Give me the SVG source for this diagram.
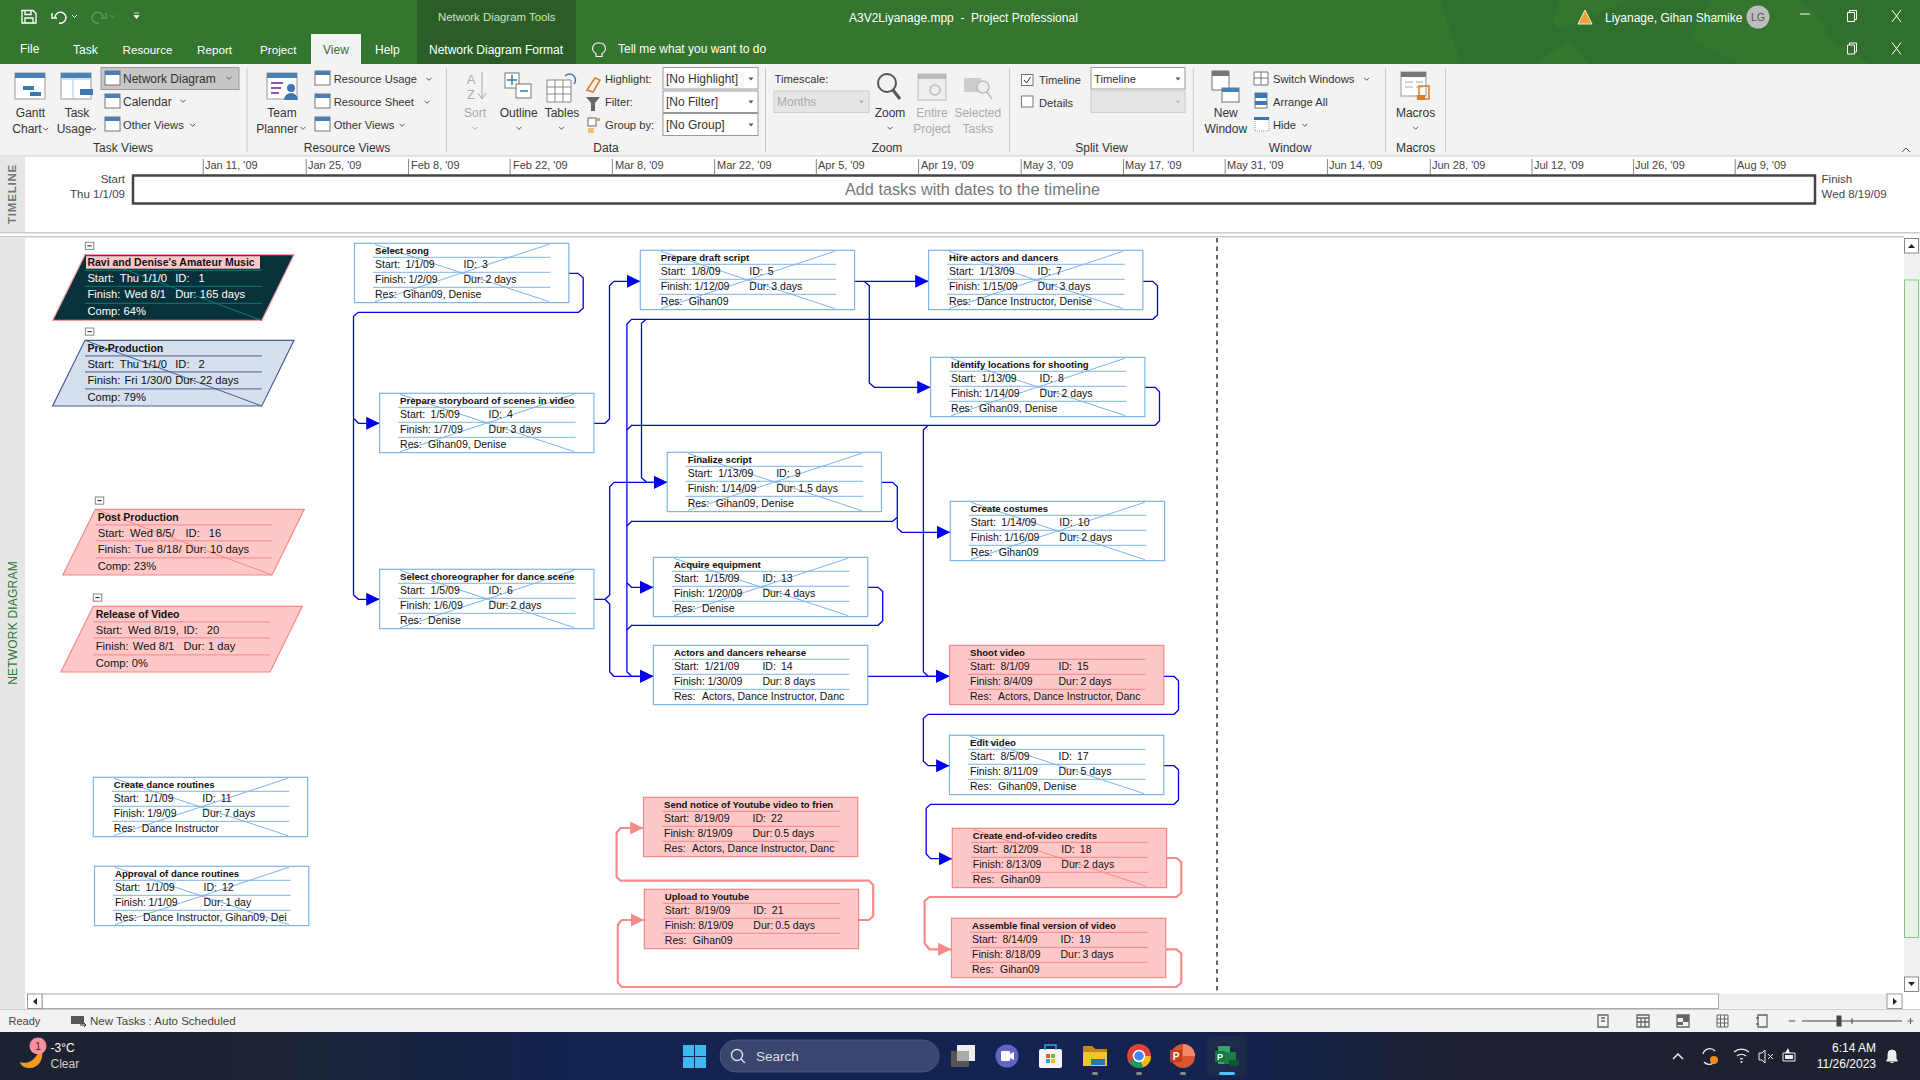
<svg xmlns="http://www.w3.org/2000/svg" width="1920" height="1080" viewBox="0 0 1920 1080">
<style>
text{font-family:"Liberation Sans",Arial,sans-serif;white-space:pre}
.w{fill:#fff;font-size:12px}
.r{fill:#333;font-size:12px}
.r2{fill:#333;font-size:11.2px}
.g{fill:#aaa;font-size:12px}
.m{text-anchor:middle}
.e{text-anchor:end}
.s{fill:#444;font-size:11px}
.t{font-size:10.5px;fill:#111}
.tb{font-size:9.6px;font-weight:700;fill:#111}
.pb2{font-size:10.5px;font-weight:700;fill:#111}
.p{font-size:11.2px;fill:#111}
.pw{font-size:11.2px;fill:#fff}
.wb{fill:#fff;stroke:#7db4ea;stroke-width:1.2}
.wl{stroke:#7db4ea;stroke-width:1}
.pb{fill:#ffc8c8;stroke:#f98787;stroke-width:1.2}
.pl{stroke:#f98787;stroke-width:1}
.blue{fill:none;stroke:#0000f0;stroke-width:1.3;marker-end:url(#ab)}
.bn{fill:none;stroke:#0000f0;stroke-width:1.3}
.pink{fill:none;stroke:#f98a8a;stroke-width:2.2;marker-end:url(#ap)}
.ch{fill:none;stroke:#555;stroke-width:1}
.bx{fill:#fff;stroke:#999;stroke-width:1}
.dis{fill:#e6e6e6;stroke:#ccc;stroke-width:1}
.sep{stroke:#c8c8c8;stroke-width:1}
.tick{stroke:#888;stroke-width:1}
.tri{fill:#555}
</style>
<defs>
<marker id="ab" markerUnits="userSpaceOnUse" markerWidth="14" markerHeight="14" refX="13.4" refY="7" orient="auto"><path d="M0,0.500L13.400,7L0,13.500Z" fill="#0000f0"/></marker>
<marker id="ap" markerUnits="userSpaceOnUse" markerWidth="14" markerHeight="14" refX="13.4" refY="7" orient="auto"><path d="M0,0.500L13.400,7L0,13.500Z" fill="#f98a8a"/></marker>
<g id="whitebox"><rect class="wb" width="214.3" height="59.3"/><path class="wl" d="M18.5,14H196M18.5,29H196M18.5,44H196"/></g>
<g id="pinkbox"><rect class="pb" width="214.3" height="59.3"/><path class="pl" d="M18.5,14H196M18.5,29H196M18.5,44H196"/></g>
<path id="x1" d="M20.5,1L194.5,58.3" fill="none" stroke-width="1"/>
<path id="x2" d="M20.5,58.3L194.5,1" fill="none" stroke-width="1"/>
<g id="cross" stroke="#7db4ea"><use href="#x1"/><use href="#x2"/></g>
<g id="collapse"><rect width="8.4" height="7.2" fill="#fff" stroke="#888"/><path d="M2,3.6H6.4" stroke="#222"/></g>
<path id="chev" class="ch" d="M-2.5,-1.2L0,1.3L2.5,-1.2"/>
<path id="drop" class="tri" d="M-2.5,-1.5H2.5L0,1.5Z"/>
<g id="sheet"><rect x="0" y="0" width="30" height="26" fill="#fff" stroke="#999"/><rect x="0" y="0" width="30" height="5" fill="#4a7fb5"/></g>
<g id="mini"><rect width="15" height="14" fill="#fff" stroke="#777"/><rect width="15" height="4" fill="#4a7fb5"/></g>
<linearGradient id="tb" x1="0" x2="1" y1="0" y2="0"><stop offset="0" stop-color="#1d2230"/><stop offset=".15" stop-color="#1c2436"/><stop offset=".3" stop-color="#14234f"/><stop offset=".64" stop-color="#14234f"/><stop offset=".76" stop-color="#1e2230"/><stop offset="1" stop-color="#1e2230"/></linearGradient>
</defs>

<rect width="1920" height="1080" fill="#fff"/>

<g id="titlebar">
<rect width="1920" height="64" fill="#34752f"/>
<path d="M1440,0h120l-8,22 20,18-40,24h-70zM1560,30l70-30h80l-20,40 50,24h-150zM1800,0h120v64h-50l-40-26-10,-20z" fill="#2f6c2b" opacity=".7"/>
<rect x="417" width="159" height="64" fill="#2b5e26"/>
<rect x="311" y="34" width="50" height="30" fill="#f3f3f3"/>
<path d="M22,10.5h11l3,3v9.5h-14zM25,10.5v4h6v-4M25,23v-5h8v5" fill="none" stroke="#fff" stroke-width="1.3"/>
<path d="M55,17a5.5,5.5 0 1 1 4,6M52,13v5h5" fill="none" stroke="#fff" stroke-width="1.4"/>
<path d="M72,15l2.500,2.500 2.500-2.500" fill="none" stroke="#fff"/>
<path d="M103,17a5.5,5.5 0 1 0 -4,6M106,13v5h-5" fill="none" stroke="#5f9a5c" stroke-width="1.4"/>
<path d="M110.500,15l2.500,2.500 2.500-2.500" fill="none" stroke="#5f9a5c"/>
<path d="M134,13h5M134,15.5h5l-2.5,3z" fill="#fff" stroke="#fff" stroke-width=".7"/>
<text x="438" y="20.5" class="w" style="fill:#cfe0cd;font-size:11.4px">Network Diagram Tools</text>
<text x="849" y="21.5" class="w">A3V2Liyanage.mpp  -  Project Professional</text>
<text x="20" y="52.500" class="w">File</text>
<text x="73" y="53.500" class="w">Task</text>
<text x="122.5" y="53.500" class="w" style="font-size:11.700px">Resource</text>
<text x="197" y="53.500" class="w" style="font-size:11.700px">Report</text>
<text x="260" y="53.500" class="w" style="font-size:11.700px">Project</text>
<text x="323" y="53.500" class="w" style="fill:#2f7030">View</text>
<text x="375" y="53.500" class="w">Help</text>
<text x="429" y="53.500" class="w">Network Diagram Format</text>
<path d="M599,43a5.5,5.5 0 0 1 3,10.500v3h-6v-3a5.500,5.500 0 0 1 3,-10.500z" fill="none" stroke="#fff" stroke-width="1.100"/>
<text x="618" y="53" class="w">Tell me what you want to do</text>
<path d="M1585,10l7,14h-14z" fill="#f0a030" stroke="#f5e6c8" stroke-width="1"/>
<text x="1605" y="21.500" class="w">Liyanage, Gihan Shamike</text>
<circle cx="1758" cy="17" r="11.500" fill="#bdbdbd"/>
<text x="1758" y="21" class="m" style="fill:#555;font-size:10.500px">LG</text>
<path d="M1800,14h10" stroke="#fff"/>
<path d="M1847.500,12.500h7v9h-7zM1849.500,12.500v-2h7v9h-2" fill="none" stroke="#fff"/>
<path d="M1892,10l9,12M1901,10l-9,12" stroke="#fff"/>
<path d="M1847.500,45h7v9h-7zM1849.500,45v-2h7v9h-2" fill="none" stroke="#fff"/>
<path d="M1892,42.500l9,12M1901,42.500l-9,12" stroke="#fff"/>
</g>

<g id="ribbon">
<rect y="64" width="1920" height="92" fill="#f3f3f3"/>
<path class="sep" d="M247,68V152M446.400,68V152M765.500,68V152M1009.600,68V152M1193.300,68V152M1385.600,68V152M1445.600,68V152"/>
<use href="#sheet" x="15" y="73"/><path d="M24,86h11v4H24zM31,92h11v4H31z" fill="#3d78b4" transform="translate(-1,0)"/>
<text x="30.500" y="117" class="r m">Gantt</text><text x="27" y="133" class="r m">Chart</text><use href="#chev" x="45.700" y="129"/>
<use href="#sheet" x="61" y="73"/><path d="M61,79h30M73,79v20" stroke="#aac4e0"/><rect x="80" y="89" width="13" height="6" fill="#3d78b4"/>
<text x="77" y="117" class="r m">Task</text><text x="74" y="133" class="r m">Usage</text><use href="#chev" x="93.700" y="129"/>
<rect x="101" y="67.500" width="138" height="22" fill="#c6c6c6" stroke="#999"/>
<use href="#mini" x="105" y="71"/><text x="123" y="83" class="r">Network Diagram</text><use href="#chev" x="229" y="78"/>
<use href="#mini" x="105" y="94"/><text x="123" y="106" class="r">Calendar</text><use href="#chev" x="183" y="101"/>
<use href="#mini" x="105" y="117"/><text x="123" y="129" class="r2">Other Views</text><use href="#chev" x="192.700" y="125"/>
<text x="123" y="152" class="r m">Task Views</text>
<use href="#sheet" x="267" y="73"/><circle cx="291" cy="88" r="4" fill="#3d78b4"/><path d="M284,100a7,7 0 0 1 14,0z" fill="#3d78b4"/><path d="M271,83h12M271,88h10M271,93h8" stroke="#8a58b0" stroke-width="2"/>
<text x="282" y="117" class="r m">Team</text><text x="277" y="133" class="r m">Planner</text><use href="#chev" x="303" y="128"/>
<use href="#mini" x="315" y="71"/><text x="333.700" y="83" class="r2">Resource Usage</text><use href="#chev" x="429" y="79"/>
<use href="#mini" x="315" y="94"/><text x="333.700" y="106" class="r2">Resource Sheet</text><use href="#chev" x="427" y="102"/>
<use href="#mini" x="315" y="117"/><text x="333.700" y="129" class="r2">Other Views</text><use href="#chev" x="402" y="125"/>
<text x="347" y="152" class="r m">Resource Views</text>
<text x="471" y="84" class="g m" style="font-size:13px">A</text><text x="471" y="99" class="g m" style="font-size:13px">Z</text><path d="M482,72V98M478,93l4,6 4-6" fill="none" stroke="#aaa"/>
<text x="475" y="117" class="g m">Sort</text><path d="M472.500,127l2.500,2.500 2.500-2.500" fill="none" stroke="#aaa"/>
<rect x="505" y="73" width="14" height="15" fill="#fff" stroke="#777"/><rect x="516" y="84" width="15" height="14" fill="#fff" stroke="#777"/><path d="M507,80h10M512,75v10M520,91h8" stroke="#3d78b4" stroke-width="1.500"/>
<text x="518.700" y="117" class="r m">Outline</text><use href="#chev" x="519" y="128"/>
<path d="M547,80h24v22h-24zM547,87h24M547,94h24M555,80v22M563,80v22" fill="#fff" stroke="#888"/><path d="M565,76a6,6 0 0 1 9,8" fill="none" stroke="#3d78b4" stroke-width="1.500"/>
<text x="562" y="117" class="r m">Tables</text><use href="#chev" x="561.500" y="128"/>
<path d="M587,90l8-12 5,2-7,12z" fill="none" stroke="#e07a20" stroke-width="1.500"/>
<text x="605" y="83" class="r2">Highlight:</text>
<path d="M586,97h14l-5,6v8h-4v-8z" fill="#666"/>
<text x="605" y="106" class="r2">Filter:</text>
<rect x="588" y="118" width="8" height="8" fill="#fff" stroke="#666"/><rect x="588" y="128" width="6" height="5" fill="#f0c070"/><rect x="597" y="118" width="3" height="3" fill="#e0a040"/>
<text x="605" y="129" class="r2">Group by:</text>
<rect class="bx" x="663" y="67.500" width="95" height="21.500"/><text x="666" y="83" class="r">[No Highlight]</text><use href="#drop" x="751" y="79"/>
<rect class="bx" x="663" y="91" width="95" height="21.500"/><text x="666" y="106" class="r">[No Filter]</text><use href="#drop" x="751" y="102"/>
<rect class="bx" x="663" y="113.500" width="95" height="22"/><text x="666" y="129" class="r">[No Group]</text><use href="#drop" x="751" y="125"/>
<text x="774.600" y="83" class="r2">Timescale:</text>
<rect class="dis" x="774" y="91" width="95" height="21.500"/><text x="777" y="106" class="g">Months</text><path d="M859,100.500h5l-2.500,3z" fill="#aaa"/>
<circle cx="887" cy="83" r="9" fill="none" stroke="#555" stroke-width="2"/><path d="M893,90l7,9" stroke="#555" stroke-width="3"/>
<text x="890" y="117" class="r m">Zoom</text><use href="#chev" x="890" y="128"/>
<text x="887" y="152" class="r m">Zoom</text>
<rect x="918" y="74" width="28" height="26" fill="#eee" stroke="#bbb"/><rect x="918" y="74" width="28" height="5" fill="#bbb"/><circle cx="935" cy="90" r="5" fill="none" stroke="#bbb" stroke-width="1.500"/>
<text x="932" y="117" class="g m">Entire</text><text x="932" y="133" class="g m">Project</text>
<rect x="964" y="78" width="17" height="14" fill="#ccc"/><circle cx="983" cy="87" r="6" fill="#eee" stroke="#bbb" stroke-width="1.500"/><path d="M987,92l5,7" stroke="#bbb" stroke-width="1.500"/>
<text x="977.800" y="117" class="g m">Selected</text><text x="977.800" y="133" class="g m">Tasks</text>
<rect x="1021.500" y="74.500" width="11.500" height="11" fill="#fff" stroke="#777"/><path d="M1024,80l2.500,3 4-6" fill="none" stroke="#333"/>
<text x="1039" y="84" class="r2">Timeline</text>
<rect class="bx" x="1091" y="67.500" width="94" height="21.500"/><text x="1094" y="83" class="r2">Timeline</text><use href="#drop" x="1178" y="79"/>
<rect x="1021.500" y="96" width="11.500" height="11" fill="#fff" stroke="#777"/>
<text x="1039" y="107" class="r2">Details</text>
<rect class="dis" x="1091" y="91" width="94" height="21.500"/><path d="M1175.500,100.500h5l-2.500,3z" fill="#bbb"/>
<text x="1101.500" y="152" class="r m">Split View</text>
<rect x="1212" y="71" width="17" height="19" fill="#fff" stroke="#777"/><rect x="1212" y="71" width="17" height="5" fill="#777"/><rect x="1222" y="88" width="17" height="14" fill="#fff" stroke="#777"/><rect x="1222" y="88" width="17" height="4" fill="#4a7fb5"/>
<text x="1225.800" y="117" class="r m">New</text><text x="1225.800" y="133" class="r m">Window</text>
<path d="M1254,72h14v13h-14zM1254,78h14M1261,72v13" fill="#fff" stroke="#777"/>
<text x="1273" y="83" class="r2">Switch Windows</text><use href="#chev" x="1366.600" y="79"/>
<rect x="1255" y="93" width="12" height="15" fill="#fff" stroke="#777"/><rect x="1255" y="93" width="12" height="5" fill="#3d78b4"/><rect x="1255" y="101" width="12" height="4" fill="#3d78b4"/>
<text x="1273" y="106" class="r2">Arrange All</text>
<rect x="1255" y="118" width="14" height="13" fill="#fff" stroke="#999" stroke-dasharray="1 1"/><rect x="1254" y="117" width="15" height="3" fill="#3d78b4"/>
<text x="1273" y="129" class="r2">Hide</text><use href="#chev" x="1304.800" y="125"/>
<text x="1290" y="152" class="r m">Window</text>
<rect x="1401" y="72" width="25" height="24" fill="#fff" stroke="#999"/><rect x="1401" y="72" width="25" height="5" fill="#777"/><path d="M1405,82h8M1416,82h7M1405,87h8M1416,87h7" stroke="#aaa"/><rect x="1419" y="86" width="10" height="13" fill="none" stroke="#e07a20" stroke-width="1.500"/><rect x="1417" y="95" width="8" height="5" fill="#e07a20"/>
<text x="1415.600" y="117" class="r m">Macros</text><use href="#chev" x="1415.600" y="128"/>
<text x="1415.600" y="152" class="r m">Macros</text>
<text x="606" y="152" class="r m">Data</text>
<path d="M1902,152l4-4 4,4" fill="none" stroke="#555"/>
<rect y="155.500" width="1920" height="1" fill="#ccc"/>
</g>

<g id="timeline">
<rect y="157" width="25" height="75" fill="#e6e6e6"/>
<text transform="translate(16,194) rotate(-90)" class="m" style="fill:#777;font-size:11.500px;font-weight:700;letter-spacing:.8px">TIMELINE</text>
<path class="tick" d="M203.300,159V174M306.200,159V174M408.500,159V174M510.100,159V174M612.400,159V174M714.600,159V174M816.300,159V174M918.600,159V174M1021.200,159V174M1123.500,159V174M1225.200,159V174M1327.400,159V174M1430.300,159V174M1532,159V174M1633.600,159V174M1735.200,159V174"/>
<g>
<text class="s" x="205" y="169">Jan 11, '09</text><text class="s" x="308" y="169">Jan 25, '09</text><text class="s" x="411" y="169">Feb 8, '09</text><text class="s" x="513" y="169">Feb 22, '09</text><text class="s" x="615" y="169">Mar 8, '09</text><text class="s" x="717" y="169">Mar 22, '09</text><text class="s" x="818" y="169">Apr 5, '09</text><text class="s" x="921" y="169">Apr 19, '09</text><text class="s" x="1023" y="169">May 3, '09</text><text class="s" x="1125" y="169">May 17, '09</text><text class="s" x="1227" y="169">May 31, '09</text><text class="s" x="1329" y="169">Jun 14, '09</text><text class="s" x="1432" y="169">Jun 28, '09</text><text class="s" x="1534" y="169">Jul 12, '09</text><text class="s" x="1635" y="169">Jul 26, '09</text><text class="s" x="1737" y="169">Aug 9, '09</text>
</g>
<rect x="133" y="175.500" width="1682" height="28" fill="#fff" stroke="#444" stroke-width="2.500"/>
<text x="972.500" y="195" class="m" style="fill:#777;font-size:16.300px">Add tasks with dates to the timeline</text>
<text x="125" y="183" class="s e" style="font-size:11.500px">Start</text><text x="125" y="198" class="s e" style="font-size:11.500px">Thu 1/1/09</text>
<text x="1821.600" y="183" class="s" style="font-size:11.500px">Finish</text><text x="1821.600" y="198" class="s" style="font-size:11.500px">Wed 8/19/09</text>
<rect y="232" width="1920" height="1.500" fill="#ccc"/>
<rect y="236" width="1904" height="1.500" fill="#ccc"/>
</g>

<g id="pane">
<rect y="238" width="25" height="772" fill="#e6e6e6"/>
<text transform="translate(17,623) rotate(-90)" class="m" style="fill:#2f7a36;font-size:12px;letter-spacing:.2px">NETWORK DIAGRAM</text>
<path d="M1217,238V992" stroke="#000" stroke-width="1.200" stroke-dasharray="4.500 4"/>
<rect x="1904" y="238" width="16" height="754" fill="#f0f0f0"/>
<rect x="1904.500" y="238.500" width="14" height="14.500" fill="#fff" stroke="#888"/><path d="M1908,248l3.500-4 3.500,4z" fill="#222"/>
<rect x="1904.500" y="280" width="14" height="657.500" fill="#e8f4e8" stroke="#8cc68c"/>
<rect x="1904.500" y="977" width="14" height="14.500" fill="#fff" stroke="#888"/><path d="M1908,982l3.500,4 3.500-4z" fill="#222"/>
<rect x="27.500" y="994" width="1875" height="14.500" fill="#f0f0f0"/>
<rect x="42" y="994" width="1676.500" height="14.500" fill="#fff" stroke="#aaa"/>
<rect x="27.500" y="994" width="14.500" height="14.500" fill="#fff" stroke="#999"/><path d="M37,998v7l-4-3.500z" fill="#222"/>
<rect x="1887" y="994" width="15" height="14.500" fill="#fff" stroke="#999"/><path d="M1893,998v7l4-3.500z" fill="#222"/>
</g>

<g id="connectors">
<path class="bn" d="M568.600,273.300H578L583.200,277.700V308.300L578.500,312.300H358.200L353.500,316.300V595"/>
<path class="blue" d="M353.500,418.300L358.500,423.300H379.600"/>
<path class="blue" d="M353.500,595L358.500,599.300H379.600"/>
<path class="blue" d="M593.900,423.300H605L609.500,419V285.700L613.800,281.300H640.300"/>
<path class="blue" d="M855,281.300H928.600"/>
<path class="blue" d="M864.100,281.300L869.300,285.700V383L874.400,387.300H930.600"/>
<path class="bn" d="M1142.500,281.300H1152.800L1157.500,285.700V315L1152.800,319.300H631.600L626.900,324V671.700"/>
<path class="blue" d="M646.300,319.300L641.500,323.300V477.700L646.700,482.300H667.200"/>
<path class="blue" d="M626.900,671.700L631.600,676.300H653.400"/>
<path class="blue" d="M626.900,582.700L631.600,587.300H653.400"/>
<path class="bn" d="M1144.500,387.300H1155.200L1159.500,391.700V421L1155.200,425.300H631.600L626.900,430"/>
<path class="blue" d="M928.200,425.300L923.400,430V671.700L928.200,676.300H949.500"/>
<path class="bn" d="M881.900,482.300H892.600L897.300,486.700V517.300L892.600,521.300H631.600L626.900,526"/>
<path class="blue" d="M897.300,528.300L902.100,532.300H950.300"/>
<path class="bn" d="M897.300,517.300V528.300"/>
<path class="bn" d="M867.700,587.300H878L882.700,591.300V621L878,625.300H631.600L626.900,630"/>
<path class="blue" d="M593.900,599.300H605L609.700,595V486.700L614,482.300H667.200"/>
<path class="blue" d="M605,599.300L609.700,604V671.700L613.800,676.300H653.400"/>
<path class="blue" d="M867.700,676.300H949.500"/>
<path class="blue" d="M1163.500,676.300H1174.100L1178.500,680.700V710L1174.100,714.300H928.200L923.400,718.300V761.300L928.200,765.700H949.500"/>
<path class="blue" d="M1163.500,765.700H1174.100L1178.500,769.700V800L1174.100,804.300H930.600L926.200,808.300V854L930.600,858.700H952.300"/>
<path class="pink" d="M1166.600,858H1176.500L1181.300,862.300V892.700L1176.500,897H929.400L924.600,901V943.300L929.400,949.300H951.500"/>
<path class="pink" d="M1165.400,949.300H1176.500L1181.300,953.300V982.700L1176.500,987H621.700L617.800,982.700V925L621.700,920H644.300"/>
<path class="pink" d="M858.600,920H868.900L873.200,916V885L868.900,880.700H620.600L616.600,876.700V832.700L620.600,828H643.500"/>
</g>

<g id="n1" transform="translate(85,254.700)">
<path d="M0,0H209L176.800,65.700H-32.400Z" fill="#08323a" stroke="#ff9a9a" stroke-width="1.200"/>
<path d="M0,15.600H176.800M0,31.600H176.800M0,48.600H176.800M0,0L176.800,65.700" stroke="#0b7a78" stroke-width="1" fill="none"/>
<rect x="1" y="1.500" width="174" height="12.500" fill="#ffc8c8"/>
<text x="2.400" y="11.600" class="pb2">Ravi and Denise's Amateur Music</text>
<text x="2.400" y="27.600" class="pw">Start:<tspan x="34.800">Thu 1/1/0</tspan><tspan x="90.200">ID:</tspan><tspan x="113.500">1</tspan></text>
<text x="2.400" y="43.600" class="pw">Finish:<tspan x="39.500">Wed 8/1</tspan><tspan x="90.200">Dur:</tspan><tspan x="114.700">165 days</tspan></text>
<text x="2.400" y="60.600" class="pw">Comp: 64%</text>
</g>
<use href="#collapse" x="85.400" y="242.300"/>
<g id="n2" transform="translate(85,340.300)">
<path d="M0,0H209L176.800,65.700H-32.400Z" fill="#d5dfee" stroke="#44608f" stroke-width="1.200"/>
<path d="M0,15.600H176.800M0,31.600H176.800M0,48.600H176.800M0,0L176.800,65.700" stroke="#44608f" stroke-width="1" fill="none"/>
<text x="2.400" y="11.600" class="pb2">Pre-Production</text>
<text x="2.400" y="27.600" class="p">Start:<tspan x="34.800">Thu 1/1/0</tspan><tspan x="90.200">ID:</tspan><tspan x="113.500">2</tspan></text>
<text x="2.400" y="43.600" class="p">Finish:<tspan x="39.500">Fri 1/30/0</tspan><tspan x="90.200">Dur:</tspan><tspan x="114.700">22 days</tspan></text>
<text x="2.400" y="60.600" class="p">Comp: 79%</text>
</g>
<use href="#collapse" x="85.400" y="328"/>
<g id="n16" transform="translate(95.300,509.300)">
<path d="M0,0H209L176.800,65.700H-32.400Z" fill="#ffc8c8" stroke="#f98787" stroke-width="1.200"/>
<path d="M0,15.600H176.800M0,31.600H176.800M0,48.600H176.800M0,0L176.800,65.700" stroke="#f98787" stroke-width="1" fill="none"/>
<text x="2.400" y="11.600" class="pb2">Post Production</text>
<text x="2.400" y="27.600" class="p">Start:<tspan x="34.800">Wed 8/5/</tspan><tspan x="90.200">ID:</tspan><tspan x="113.500">16</tspan></text>
<text x="2.400" y="43.600" class="p">Finish:<tspan x="39.500">Tue 8/18/</tspan><tspan x="90.200">Dur:</tspan><tspan x="114.700">10 days</tspan></text>
<text x="2.400" y="60.600" class="p">Comp: 23%</text>
</g>
<use href="#collapse" x="95.300" y="497"/>
<g id="n20" transform="translate(93.300,606.300)">
<path d="M0,0H209L176.800,65.700H-32.400Z" fill="#ffc8c8" stroke="#f98787" stroke-width="1.200"/>
<path d="M0,15.600H176.800M0,31.600H176.800M0,48.600H176.800" stroke="#f98787" stroke-width="1" fill="none"/>
<text x="2.400" y="11.600" class="pb2">Release of Video</text>
<text x="2.400" y="27.600" class="p">Start:<tspan x="34.800">Wed 8/19,</tspan><tspan x="90.200">ID:</tspan><tspan x="113.500">20</tspan></text>
<text x="2.400" y="43.600" class="p">Finish:<tspan x="39.500">Wed 8/1</tspan><tspan x="90.200">Dur:</tspan><tspan x="114.700">1 day</tspan></text>
<text x="2.400" y="60.600" class="p">Comp: 0%</text>
</g>
<use href="#collapse" x="93.300" y="594"/>

<g id="n3" transform="translate(354.500,243.300)"><use href="#whitebox"/><use href="#cross"/>
<text x="20.500" y="10.700" class="tb">Select song</text>
<text x="20.500" y="24.700" class="t">Start:<tspan x="51">1/1/09</tspan><tspan x="109">ID:</tspan><tspan x="127.500">3</tspan></text>
<text x="20.500" y="39.700" class="t">Finish:<tspan x="54">1/2/09</tspan><tspan x="109">Dur:</tspan><tspan x="131">2 days</tspan></text>
<text x="20.500" y="54.700" class="t">Res:<tspan x="48.500">Gihan09, Denise</tspan></text></g>
<g id="n4" transform="translate(379.600,393.300)"><use href="#whitebox"/><use href="#cross"/>
<text x="20.500" y="10.700" class="tb">Prepare storyboard of scenes in video</text>
<text x="20.500" y="24.700" class="t">Start:<tspan x="51">1/5/09</tspan><tspan x="109">ID:</tspan><tspan x="127.500">4</tspan></text>
<text x="20.500" y="39.700" class="t">Finish:<tspan x="54">1/7/09</tspan><tspan x="109">Dur:</tspan><tspan x="131">3 days</tspan></text>
<text x="20.500" y="54.700" class="t">Res:<tspan x="48.500">Gihan09, Denise</tspan></text></g>
<g id="n6" transform="translate(379.600,569.300)"><use href="#whitebox"/><use href="#cross"/>
<text x="20.500" y="10.700" class="tb">Select choreographer for dance scene</text>
<text x="20.500" y="24.700" class="t">Start:<tspan x="51">1/5/09</tspan><tspan x="109">ID:</tspan><tspan x="127.500">6</tspan></text>
<text x="20.500" y="39.700" class="t">Finish:<tspan x="54">1/6/09</tspan><tspan x="109">Dur:</tspan><tspan x="131">2 days</tspan></text>
<text x="20.500" y="54.700" class="t">Res:<tspan x="48.500">Denise</tspan></text></g>
<g id="n5" transform="translate(640.300,250.300)"><use href="#whitebox"/><use href="#cross"/>
<text x="20.500" y="10.700" class="tb">Prepare draft script</text>
<text x="20.500" y="24.700" class="t">Start:<tspan x="51">1/8/09</tspan><tspan x="109">ID:</tspan><tspan x="127.500">5</tspan></text>
<text x="20.500" y="39.700" class="t">Finish:<tspan x="54">1/12/09</tspan><tspan x="109">Dur:</tspan><tspan x="131">3 days</tspan></text>
<text x="20.500" y="54.700" class="t">Res:<tspan x="48.500">Gihan09</tspan></text></g>
<g id="n7" transform="translate(928.600,250.300)"><use href="#whitebox"/><use href="#cross"/>
<text x="20.500" y="10.700" class="tb">Hire actors and dancers</text>
<text x="20.500" y="24.700" class="t">Start:<tspan x="51">1/13/09</tspan><tspan x="109">ID:</tspan><tspan x="127.500">7</tspan></text>
<text x="20.500" y="39.700" class="t">Finish:<tspan x="54">1/15/09</tspan><tspan x="109">Dur:</tspan><tspan x="131">3 days</tspan></text>
<text x="20.500" y="54.700" class="t">Res:<tspan x="48.500">Dance Instructor, Denise</tspan></text></g>
<g id="n8" transform="translate(930.600,357.300)"><use href="#whitebox"/><use href="#cross"/>
<text x="20.500" y="10.700" class="tb">Identify locations for shooting</text>
<text x="20.500" y="24.700" class="t">Start:<tspan x="51">1/13/09</tspan><tspan x="109">ID:</tspan><tspan x="127.500">8</tspan></text>
<text x="20.500" y="39.700" class="t">Finish:<tspan x="54">1/14/09</tspan><tspan x="109">Dur:</tspan><tspan x="131">2 days</tspan></text>
<text x="20.500" y="54.700" class="t">Res:<tspan x="48.500">Gihan09, Denise</tspan></text></g>
<g id="n9" transform="translate(667.200,452.300)"><use href="#whitebox"/><use href="#cross"/>
<text x="20.500" y="10.700" class="tb">Finalize script</text>
<text x="20.500" y="24.700" class="t">Start:<tspan x="51">1/13/09</tspan><tspan x="109">ID:</tspan><tspan x="127.500">9</tspan></text>
<text x="20.500" y="39.700" class="t">Finish:<tspan x="54">1/14/09</tspan><tspan x="109">Dur:</tspan><tspan x="131">1.5 days</tspan></text>
<text x="20.500" y="54.700" class="t">Res:<tspan x="48.500">Gihan09, Denise</tspan></text></g>
<g id="n10" transform="translate(950.300,501.300)"><use href="#whitebox"/><use href="#cross"/>
<text x="20.500" y="10.700" class="tb">Create costumes</text>
<text x="20.500" y="24.700" class="t">Start:<tspan x="51">1/14/09</tspan><tspan x="109">ID:</tspan><tspan x="127.500">10</tspan></text>
<text x="20.500" y="39.700" class="t">Finish:<tspan x="54">1/16/09</tspan><tspan x="109">Dur:</tspan><tspan x="131">2 days</tspan></text>
<text x="20.500" y="54.700" class="t">Res:<tspan x="48.500">Gihan09</tspan></text></g>
<g id="n13" transform="translate(653.400,557.300)"><use href="#whitebox"/><use href="#cross"/>
<text x="20.500" y="10.700" class="tb">Acquire equipment</text>
<text x="20.500" y="24.700" class="t">Start:<tspan x="51">1/15/09</tspan><tspan x="109">ID:</tspan><tspan x="127.500">13</tspan></text>
<text x="20.500" y="39.700" class="t">Finish:<tspan x="54">1/20/09</tspan><tspan x="109">Dur:</tspan><tspan x="131">4 days</tspan></text>
<text x="20.500" y="54.700" class="t">Res:<tspan x="48.500">Denise</tspan></text></g>
<g id="n14" transform="translate(653.400,645.300)"><use href="#whitebox"/>
<text x="20.500" y="10.700" class="tb">Actors and dancers rehearse</text>
<text x="20.500" y="24.700" class="t">Start:<tspan x="51">1/21/09</tspan><tspan x="109">ID:</tspan><tspan x="127.500">14</tspan></text>
<text x="20.500" y="39.700" class="t">Finish:<tspan x="54">1/30/09</tspan><tspan x="109">Dur:</tspan><tspan x="131">8 days</tspan></text>
<text x="20.500" y="54.700" class="t">Res:<tspan x="48.500">Actors, Dance Instructor, Danc</tspan></text></g>
<g id="n15" transform="translate(949.500,645.300)"><use href="#pinkbox"/>
<text x="20.500" y="10.700" class="tb">Shoot video</text>
<text x="20.500" y="24.700" class="t">Start:<tspan x="51">8/1/09</tspan><tspan x="109">ID:</tspan><tspan x="127.500">15</tspan></text>
<text x="20.500" y="39.700" class="t">Finish:<tspan x="54">8/4/09</tspan><tspan x="109">Dur:</tspan><tspan x="131">2 days</tspan></text>
<text x="20.500" y="54.700" class="t">Res:<tspan x="48.500">Actors, Dance Instructor, Danc</tspan></text></g>
<g id="n17" transform="translate(949.500,735.300)"><use href="#whitebox"/><use href="#x1" stroke="#7db4ea"/>
<text x="20.500" y="10.700" class="tb">Edit video</text>
<text x="20.500" y="24.700" class="t">Start:<tspan x="51">8/5/09</tspan><tspan x="109">ID:</tspan><tspan x="127.500">17</tspan></text>
<text x="20.500" y="39.700" class="t">Finish:<tspan x="54">8/11/09</tspan><tspan x="109">Dur:</tspan><tspan x="131">5 days</tspan></text>
<text x="20.500" y="54.700" class="t">Res:<tspan x="48.500">Gihan09, Denise</tspan></text></g>
<g id="n22" transform="translate(643.500,797.300)"><use href="#pinkbox"/>
<text x="20.500" y="10.700" class="tb">Send notice of Youtube video to frien</text>
<text x="20.500" y="24.700" class="t">Start:<tspan x="51">8/19/09</tspan><tspan x="109">ID:</tspan><tspan x="127.500">22</tspan></text>
<text x="20.500" y="39.700" class="t">Finish:<tspan x="54">8/19/09</tspan><tspan x="109">Dur:</tspan><tspan x="131">0.5 days</tspan></text>
<text x="20.500" y="54.700" class="t">Res:<tspan x="48.500">Actors, Dance Instructor, Danc</tspan></text></g>
<g id="n21" transform="translate(644.300,889.300)"><use href="#pinkbox"/>
<text x="20.500" y="10.700" class="tb">Upload to Youtube</text>
<text x="20.500" y="24.700" class="t">Start:<tspan x="51">8/19/09</tspan><tspan x="109">ID:</tspan><tspan x="127.500">21</tspan></text>
<text x="20.500" y="39.700" class="t">Finish:<tspan x="54">8/19/09</tspan><tspan x="109">Dur:</tspan><tspan x="131">0.5 days</tspan></text>
<text x="20.500" y="54.700" class="t">Res:<tspan x="48.500">Gihan09</tspan></text></g>
<g id="n18" transform="translate(952.300,828.300)"><use href="#pinkbox"/><use href="#x1" stroke="#f98787"/>
<text x="20.500" y="10.700" class="tb">Create end-of-video credits</text>
<text x="20.500" y="24.700" class="t">Start:<tspan x="51">8/12/09</tspan><tspan x="109">ID:</tspan><tspan x="127.500">18</tspan></text>
<text x="20.500" y="39.700" class="t">Finish:<tspan x="54">8/13/09</tspan><tspan x="109">Dur:</tspan><tspan x="131">2 days</tspan></text>
<text x="20.500" y="54.700" class="t">Res:<tspan x="48.500">Gihan09</tspan></text></g>
<g id="n19" transform="translate(951.500,918.300)"><use href="#pinkbox"/>
<text x="20.500" y="10.700" class="tb">Assemble final version of video</text>
<text x="20.500" y="24.700" class="t">Start:<tspan x="51">8/14/09</tspan><tspan x="109">ID:</tspan><tspan x="127.500">19</tspan></text>
<text x="20.500" y="39.700" class="t">Finish:<tspan x="54">8/18/09</tspan><tspan x="109">Dur:</tspan><tspan x="131">3 days</tspan></text>
<text x="20.500" y="54.700" class="t">Res:<tspan x="48.500">Gihan09</tspan></text></g>
<g id="n11" transform="translate(93.300,777.300)"><use href="#whitebox"/><use href="#cross"/>
<text x="20.500" y="10.700" class="tb">Create dance routines</text>
<text x="20.500" y="24.700" class="t">Start:<tspan x="51">1/1/09</tspan><tspan x="109">ID:</tspan><tspan x="127.500">11</tspan></text>
<text x="20.500" y="39.700" class="t">Finish:<tspan x="54">1/9/09</tspan><tspan x="109">Dur:</tspan><tspan x="131">7 days</tspan></text>
<text x="20.500" y="54.700" class="t">Res:<tspan x="48.500">Dance Instructor</tspan></text></g>
<g id="n12" transform="translate(94.500,866.300)"><use href="#whitebox"/><use href="#cross"/>
<text x="20.500" y="10.700" class="tb">Approval of dance routines</text>
<text x="20.500" y="24.700" class="t">Start:<tspan x="51">1/1/09</tspan><tspan x="109">ID:</tspan><tspan x="127.500">12</tspan></text>
<text x="20.500" y="39.700" class="t">Finish:<tspan x="54">1/1/09</tspan><tspan x="109">Dur:</tspan><tspan x="131">1 day</tspan></text>
<text x="20.500" y="54.700" class="t">Res:<tspan x="48.500">Dance Instructor, Gihan09, Dei</tspan></text></g>

<g id="statusbar">
<rect y="1009.500" width="1920" height="22.500" fill="#f2f2f2"/>
<path d="M0,1009.500H1920" stroke="#ccc"/>
<text x="8.500" y="1025" class="s">Ready</text>
<rect x="71" y="1016" width="13" height="8" fill="#555"/><path d="M80,1025h6m-2-2l2,2-2,2" stroke="#333" fill="none"/>
<text x="90" y="1025" class="s" style="font-size:11.500px">New Tasks : Auto Scheduled</text>
<path d="M1598,1015h10v12h-10zM1601,1018h4M1601,1021h4" fill="none" stroke="#666" stroke-width="1.300"/>
<path d="M1637,1015h12v12h-12zM1637,1018h12M1641,1018v9M1645,1018v9M1637,1022h12" fill="none" stroke="#666" stroke-width="1.300"/>
<path d="M1677,1015h12v12h-12z" fill="none" stroke="#666" stroke-width="1.300"/><rect x="1677" y="1015" width="12" height="3" fill="#666"/><rect x="1683" y="1018" width="6" height="4" fill="#666"/><rect x="1677" y="1022" width="6" height="3" fill="#666"/>
<path d="M1717,1015h11v12h-11zM1720.500,1015v12M1724.500,1015v12M1717,1019h11M1717,1023h11" fill="none" stroke="#666" stroke-width="1"/>
<path d="M1758,1015h9v12h-9zM1756,1018h3M1756,1024h3" fill="none" stroke="#666" stroke-width="1.300"/>
<path d="M1789,1021h6" stroke="#666" stroke-width="1.200"/>
<path d="M1802,1021H1902" stroke="#444"/><path d="M1852,1018v6" stroke="#444"/><rect x="1836.500" y="1015.500" width="5" height="11" fill="#444"/>
<path d="M1907.500,1021h6M1910.500,1018v6" stroke="#666" stroke-width="1.200"/>
</g>

<g id="taskbar">
<rect y="1032" width="1920" height="48" fill="url(#tb)"/>
<path d="M20,1062c8,3 15,-2 20,-12l2,0c2,10-4,18-12,18-5,0-9-2-10-6z" fill="#f09a20"/>
<circle cx="38" cy="1046" r="8.500" fill="#ff8f9f"/><text x="38" y="1050" class="m" style="fill:#333;font-size:11px">1</text>
<text x="50.500" y="1051.500" class="w">-3°C</text><text x="50.500" y="1067.500" class="w" style="fill:#ccc">Clear</text>
<path d="M683,1045h11v11h-11zM695,1045h11v11h-11zM683,1057h11v11h-11zM695,1057h11v11h-11z" fill="#3fb8f0"/>
<rect x="720" y="1040" width="219" height="32" rx="16" fill="#3a4570" stroke="#4b567e"/>
<circle cx="737" cy="1055" r="5.500" fill="none" stroke="#ddd" stroke-width="1.400"/><path d="M741,1059l4,4" stroke="#ddd" stroke-width="1.400"/>
<text x="756" y="1061" class="w" style="fill:#ddd;font-size:13.500px">Search</text>
<rect x="951" y="1051" width="18" height="16" fill="#555"/><rect x="957" y="1045" width="18" height="16" fill="#eee"/><rect x="957" y="1051" width="12" height="10" fill="#aaa"/>
<circle cx="1007" cy="1056" r="11.500" fill="#6264c8"/><rect x="1001" y="1051" width="9" height="10" rx="1" fill="#fff"/><path d="M1010,1054l4-2v8l-4-2z" fill="#fff"/>
<rect x="1039" y="1049" width="23" height="19" rx="2" fill="#f4f4f4"/><path d="M1045,1050v-5h11v5" fill="none" stroke="#2aa8e0" stroke-width="1.500"/><rect x="1046" y="1054" width="4" height="4" fill="#e8562a"/><rect x="1051" y="1054" width="4" height="4" fill="#7db82a"/><rect x="1046" y="1059" width="4" height="4" fill="#2aa0e8"/><rect x="1051" y="1059" width="4" height="4" fill="#f8b820"/>
<path d="M1083,1046h9l3,3h12v17h-24z" fill="#f4c430"/><path d="M1083,1046h9l3,3h12v3h-24z" fill="#c08a10"/><rect x="1091" y="1059" width="14" height="6" fill="#1a7ac8"/>
<circle cx="1139" cy="1056" r="12" fill="#db4437"/><path d="M1139,1056L1129,1062A12,12 0 0 0 1143,1067.300Z" fill="#0f9d58"/><path d="M1139,1056L1151,1056A12,12 0 0 1 1143,1067.300Z" fill="#fbbc05"/><circle cx="1139" cy="1056" r="5.500" fill="#4285f4" stroke="#fff" stroke-width="1.500"/>
<circle cx="1183" cy="1056" r="12" fill="#d9552f"/><path d="M1183,1044a12,12 0 0 1 12,12h-12z" fill="#f08a6a"/><rect x="1170" y="1050" width="12" height="12" fill="#c43e1c"/><text x="1176" y="1060" class="m" style="fill:#fff;font-size:10px;font-weight:700">P</text>
<rect x="1207" y="1036" width="40" height="40" rx="4" fill="#1e2a4a"/>
<rect x="1218" y="1046" width="12" height="18" fill="#33a76a"/><rect x="1224" y="1052" width="12" height="12" fill="#1e7a48"/><rect x="1229" y="1060" width="10" height="6" fill="#0e5530"/><rect x="1215" y="1051" width="10" height="11" fill="#0f7a43"/><text x="1220" y="1060" class="m" style="fill:#fff;font-size:9px;font-weight:700">P</text>
<rect x="1219" y="1072" width="16" height="3" rx="1.500" fill="#4cc2ff"/>
<rect x="1092" y="1072" width="6" height="3" rx="1.500" fill="#888"/><rect x="1136" y="1072" width="6" height="3" rx="1.500" fill="#888"/><rect x="1180" y="1072" width="6" height="3" rx="1.500" fill="#888"/>
<path d="M1673,1059l5-5 5,5" fill="none" stroke="#eee" stroke-width="1.500"/>
<path d="M1703,1054a7,7 0 0 1 12,-3M1716,1059a7,7 0 0 1 -12,3" fill="none" stroke="#eee" stroke-width="1.200"/><circle cx="1714" cy="1060" r="4" fill="#f08a10"/>
<path d="M1734,1052a11,11 0 0 1 15,0M1737,1056a7,7 0 0 1 9,0M1740,1059a3,3 0 0 1 3,0" fill="none" stroke="#eee" stroke-width="1.200"/><circle cx="1741.500" cy="1062" r="1" fill="#eee"/>
<path d="M1759,1053h3l3-3v13l-3-3h-3zM1768,1054l5,5M1773,1054l-5,5" fill="none" stroke="#eee" stroke-width="1"/>
<path d="M1783,1053h12v8h-12z" fill="none" stroke="#eee"/><path d="M1785,1053l3-5 2,5z" fill="#eee"/><rect x="1785" y="1055" width="8" height="4" fill="#eee"/>
<text x="1876" y="1052" class="w e">6:14 AM</text><text x="1876" y="1068" class="w e">11/26/2023</text>
<path d="M1892,1050a4,4 0 0 1 4,4v5l1.500,2h-11l1.500-2v-5a4,4 0 0 1 4-4zM1890.500,1062.500h3" fill="#eee" stroke="#eee"/>
</g>
</svg>
